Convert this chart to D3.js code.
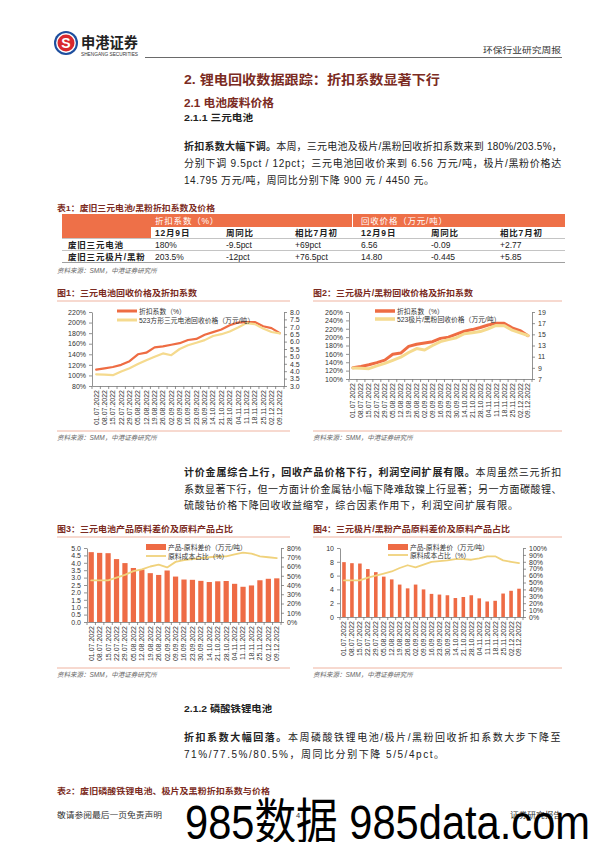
<!DOCTYPE html>
<html><head><meta charset="utf-8">
<script src="https://cdn.jsdelivr.net/npm/d3@7"></script>
<style>
body{margin:0;background:#fff;}
svg{display:block;font-family:"Liberation Sans","Noto Sans CJK SC",sans-serif;}
</style></head><body>
<svg id="page" width="596" height="842"></svg>
<script>
// ---------------- DATA ----------------
const dates = ["01.07.2022","08.07.2022","15.07.2022","22.07.2022","29.07.2022","05.08.2022","12.08.2022","19.08.2022","26.08.2022","02.09.2022","09.09.2022","16.09.2022","23.09.2022","30.09.2022","14.10.2022","21.10.2022","28.10.2022","04.11.2022","11.11.2022","18.11.2022","25.11.2022","02.12.2022","09.12.2022"];
// Fig 1: ternary battery
const c1Discount = [111,113.5,116,120,127,140,143,153,155,158,161,167,169,177,182,187,195,200,201,201,193,189.5,180];
const c1Price = [3.79,3.77,3.73,3.98,4.2,4.48,4.74,4.98,5.2,5.08,5.5,5.75,5.92,6.1,6.38,6.5,6.68,6.95,7.25,7.18,6.88,6.65,6.56];
// Fig 2: ternary electrode / black mass
const c2Discount = [127,130,134,139,145,159,162,178,183,186,189,197,200,207,214,218,223,229,233,233,222,215.5,203.5];
const c2Price = [8.95,8.92,8.85,9.35,9.8,10.35,10.9,11.75,12.45,12.2,13.0,13.7,14.05,14.4,15.1,15.3,15.5,16.0,16.6,16.55,15.75,15.25,14.8];
// Fig 3
const c3Spread = [4.72,4.67,4.65,4.25,3.98,3.65,3.55,3.3,3.18,3.48,3.07,2.87,2.85,2.78,2.7,2.75,2.77,2.58,2.38,2.47,2.82,2.92,2.95];
const c3Share = [45,45,45,48,51,55,57,60,62,59,65,67,68,69,70,71,71,73,75,74,71,70,69];
// Fig 4
const c4Spread = [7.95,7.8,7.75,6.95,6.5,5.85,5.45,4.7,4.15,4.7,4.0,3.35,3.25,3.15,2.75,2.9,3.15,2.7,2.25,2.35,3.4,3.8,4.1];
const c4Share = [53,53,53,57,60,63,66,71,75,72,76,80,81,82,84,84,83,85,88,88,82,80,78];
// Axis ticks
const c1LeftTicks = [80,100,120,140,160,180,200,220];
const c1RightTicks = [3,3.5,4,4.5,5,5.5,6,6.5,7,7.5,8];
const c2LeftTicks = [100,120,140,160,180,200,220,240,260];
const c2RightTicks = [7,9,11,13,15,17,19];
const c3LeftTicks = [0,0.5,1,1.5,2,2.5,3,3.5,4,4.5,5];
const c3RightTicks = [0,10,20,30,40,50,60,70,80];
const c4LeftTicks = [0,2,4,6,8,10];
const c4RightTicks = [0,10,20,30,40,50,60,70,80,90,100];
// Table 1
const tblGroups = ["折扣系数（%）","回收价格（万元/吨）"];
const tblHeads = ["12月9日","周同比","相比7月初","12月9日","周同比","相比7月初"];
const tblRows = [
  ["废旧三元电池","180%","-9.5pct","+69pct","6.56","-0.09","+2.77"],
  ["废旧三元极片/黑粉","203.5%","-12pct","+76.5pct","14.80","-0.445","+5.85"]
];

// ---------------- STYLE ----------------
const ORANGE = "#EE6C43", YELLOW = "#F5DA8E", YELLOW2 = "#F0D27C", BAR = "#EE6B45";
const DARKRED = "#7B2B22", TXT = "#222";
const svg = d3.select("#page");

function T(x,y,s,o={}){
  const t = svg.append("text").attr("x",x).attr("y",y).text(s)
    .attr("font-size",o.size||10).attr("fill",o.fill||TXT);
  if(o.bold) t.attr("font-weight","bold");
  if(o.anchor) t.attr("text-anchor",o.anchor);
  if(o.italic) t.attr("font-style","italic");
  if(o.len) t.attr("textLength",o.len).attr("lengthAdjust","spacingAndGlyphs");
  if(o.ls) t.style("letter-spacing",o.ls+"px");
  return t;
}
function para(x,y,segs,width,size,ls){
  const t = svg.append("text").attr("x",x).attr("y",y).attr("font-size",size).attr("fill",TXT);
  let n=0;
  segs.forEach(s=>{ t.append("tspan").text(s.t).attr("font-weight",s.b?"bold":"normal"); n+=s.t.length; });
  let used = ls||0;
  if(width){
    const len = t.node().getComputedTextLength();
    used = (width-len)/n;
  }
  t.style("letter-spacing",used+"px");
  return used;
}

// ---------------- HEADER ----------------
svg.append("circle").attr("cx",66).attr("cy",43).attr("r",12).attr("fill","#1D4E9E");
svg.append("circle").attr("cx",66).attr("cy",43).attr("r",9.9).attr("fill","#fff");
svg.append("circle").attr("cx",66).attr("cy",43).attr("r",8.5).attr("fill","#D8282E");
T(66,48,"S",{size:14,bold:true,fill:"#fff",anchor:"middle"});
T(81,48,"申港证券",{size:14.5,bold:true,fill:"#222",len:57});
T(81,55.5,"SHENGANG SECURITIES",{size:4.6,fill:"#333",len:57});
svg.append("line").attr("x1",145).attr("x2",562).attr("y1",57.5).attr("y2",57.5).attr("stroke","#444").attr("stroke-width",0.8);
T(561,53,"环保行业研究周报",{size:8.5,fill:"#333",anchor:"end",len:78});

T(184,84,"2. 锂电回收数据跟踪：折扣系数显著下行",{size:13,bold:true,fill:DARKRED,len:256});
T(184,107,"2.1 电池废料价格",{size:11,bold:true,fill:DARKRED,len:90});
T(184,121,"2.1.1 三元电池",{size:9.5,bold:true,fill:TXT,len:69});

let ls1 = para(184,150,[{t:"折扣系数大幅下调。",b:true},{t:"本周，三元电池及极片/黑粉回收折扣系数来到 180%/203.5%，"}],378,10);
para(184,167,[{t:"分别下调 9.5pct / 12pct；三元电池回收价来到 6.56 万元/吨，极片/黑粉价格达"}],378,10);
para(184,184,[{t:"14.795 万元/吨，周同比分别下降 900 元 / 4450 元。"}],null,10,ls1+0.3);

// ---------------- TABLE 1 ----------------
T(57,211,"表1：废旧三元电池/黑粉折扣系数及价格",{size:8,bold:true,fill:DARKRED,len:158});
const tx0=62, tx1=565, ty0=214;
svg.append("rect").attr("x",tx0).attr("y",ty0).attr("width",tx1-tx0).attr("height",13).attr("fill","#EE7048");
svg.append("rect").attr("x",tx0).attr("y",ty0).attr("width",89).attr("height",24).attr("fill","#EE7048");
svg.append("line").attr("x1",352.5).attr("x2",352.5).attr("y1",ty0).attr("y2",ty0+13).attr("stroke","#fff").attr("stroke-width",1);
const colX = [68,155,226,295,361,431,500];
T(colX[1],224,tblGroups[0],{size:8.5,fill:"#fff",ls:0.8});
T(colX[4],224,tblGroups[1],{size:8.5,fill:"#fff",ls:0.8});
tblHeads.forEach((h,i)=>T(colX[i+1],236,h,{size:8.5,bold:true,ls:0.8}));
[238.5,250.5,262.5].forEach((yy,i)=>svg.append("line").attr("x1",tx0).attr("x2",tx1).attr("y1",yy).attr("y2",yy)
  .attr("stroke",i==2?"#777":"#aaa").attr("stroke-width",0.7));
tblRows.forEach((r,ri)=>{
  const yy = 248 + ri*12;
  r.forEach((v,ci)=>T(colX[ci],yy,v,{size:8.5,bold:ci==0,ls:ci==0?0.8:0}));
});
T(57,273,"资料来源：SMM，中港证券研究所",{size:6.5,italic:true,fill:"#666"});

// ---------------- CHARTS ----------------
function styleAxis(a){
  a.attr("font-family",null).attr("font-size",null);
  a.selectAll("text").attr("font-size",7).attr("fill","#333");
  a.selectAll("path,line").attr("stroke","#777").attr("stroke-width",0.8);
}
function chart(o){
  T(o.fx,532- (o.top?236:0),o.title,{size:8.5,bold:true,fill:DARKRED,len:o.tlen});
  const ry1 = o.top?301:537, ry2 = o.top?431:668;
  [ry1,ry2].forEach(yy=>svg.append("line").attr("x1",o.fx).attr("x2",o.fx2).attr("y1",yy).attr("y2",yy)
      .attr("stroke","#EFB3A0").attr("stroke-width",1));
  T(o.fx,ry2+9,"资料来源：SMM，中港证券研究所",{size:6.5,italic:true,fill:"#666"});

  const g = svg.append("g");
  const xs = d3.scaleBand().domain(dates).range([o.x0,o.x1]);
  const yL = d3.scaleLinear().domain(o.lDom).range([o.yb,o.yt]);
  const yR = d3.scaleLinear().domain(o.rDom).range([o.yb,o.yt]);
  const cx = d=>xs(d)+xs.bandwidth()/2;

  if(o.bars){
    g.selectAll("rect.bar").data(o.bars).join("rect").attr("class","bar")
      .attr("x",(d,i)=>cx(dates[i])-xs.bandwidth()*o.bw/2)
      .attr("width",xs.bandwidth()*o.bw)
      .attr("y",d=>yL(d)).attr("height",d=>o.yb-yL(d)).attr("fill",BAR);
  }
  const aL = g.append("g").attr("transform",`translate(${o.x0},0)`)
    .call(d3.axisLeft(yL).tickValues(o.lTicks).tickFormat(o.lFmt).tickSize(3).tickSizeOuter(0));
  const aR = g.append("g").attr("transform",`translate(${o.x1},0)`)
    .call(d3.axisRight(yR).tickValues(o.rTicks).tickFormat(o.rFmt).tickSize(3).tickSizeOuter(0));
  const aX = g.append("g").attr("transform",`translate(0,${o.yb})`)
    .call(d3.axisBottom(xs).tickSize(0).tickSizeOuter(0));
  aX.selectAll("text").attr("transform","rotate(-90)").attr("x",-4).attr("y",0).attr("dy","0.35em").style("text-anchor","end");
  [aL,aR,aX].forEach(styleAxis);
  g.selectAll("line.xt").data(d3.range(dates.length+1)).join("line").attr("class","xt")
    .attr("x1",i=>o.x0+i*xs.step()).attr("x2",i=>o.x0+i*xs.step())
    .attr("y1",o.yb).attr("y2",o.yb+3).attr("stroke","#777").attr("stroke-width",0.8);

  o.lines.forEach(L=>{
    const sc = L.right?yR:yL;
    g.append("path").datum(L.data)
      .attr("d",d3.line().x((d,i)=>cx(dates[i])).y(d=>sc(d)))
      .attr("fill","none").attr("stroke",L.color).attr("stroke-width",L.w)
      .attr("stroke-linejoin","round").attr("stroke-linecap","round");
  });
  o.legend.forEach((L,i)=>{
    const yy = o.ly[i];
    if(L.bar) svg.append("rect").attr("x",o.lx).attr("y",yy-3).attr("width",20).attr("height",6).attr("fill",BAR);
    else svg.append("line").attr("x1",o.lx).attr("x2",o.lx+20).attr("y1",yy).attr("y2",yy)
      .attr("stroke",L.color).attr("stroke-width",L.w);
    T(o.lx+22,yy+2.5,L.label,{size:6.8,fill:"#333"});
  });
}

const pct = d=>d+"%";
chart({top:true,fx:57,fx2:290,title:"图1：三元电池回收价格及折扣系数",tlen:140,
  x0:92,x1:284,yt:312,yb:386,lDom:[80,220],rDom:[3,8],
  lTicks:c1LeftTicks,rTicks:c1RightTicks,lFmt:pct,rFmt:d3.format(".1f"),
  lines:[{data:c1Discount,color:ORANGE,w:2.2},{data:c1Price,color:YELLOW,w:2.2,right:true}],
  lx:117,ly:[311,320],
  legend:[{label:"折扣系数（%）",color:ORANGE,w:3},{label:"523方形三元电池回收价格（万元/吨）",color:YELLOW,w:3}]});

chart({top:true,fx:313,fx2:562,title:"图2：三元极片/黑粉回收价格及折扣系数",tlen:160,
  x0:349,x1:532,yt:312,yb:379,lDom:[100,260],rDom:[7,19],
  lTicks:c2LeftTicks,rTicks:c2RightTicks,lFmt:pct,rFmt:d3.format("d"),
  lines:[{data:c2Discount,color:ORANGE,w:3},{data:c2Price,color:YELLOW,w:3,right:true}],
  lx:375,ly:[311,319],
  legend:[{label:"折扣系数（%）",color:ORANGE,w:3.5},{label:"523极片/黑粉回收价格（万元/吨）",color:YELLOW,w:3.5}]});

chart({top:false,fx:57,fx2:290,title:"图3：三元电池产品原料差价及原料产品占比",tlen:176,
  x0:87,x1:281,yt:548,yb:622,lDom:[0,5],rDom:[0,80],
  lTicks:c3LeftTicks,rTicks:c3RightTicks,lFmt:d3.format(".1f"),rFmt:pct,
  bars:c3Spread,bw:0.62,
  lines:[{data:c3Share,color:YELLOW2,w:1.8,right:true}],
  lx:146,ly:[547,556],
  legend:[{label:"产品-原料差价（万元/吨）",bar:true},{label:"原料成本占比（%）",color:YELLOW2,w:1.8}]});

chart({top:false,fx:313,fx2:562,title:"图4：三元极片/黑粉产品原料差价及原料产品占比",tlen:197,
  x0:340,x1:523,yt:548,yb:617,lDom:[0,10],rDom:[0,100],
  lTicks:c4LeftTicks,rTicks:c4RightTicks,lFmt:d3.format("d"),rFmt:pct,
  bars:c4Spread,bw:0.45,
  lines:[{data:c4Share,color:YELLOW2,w:1.8,right:true}],
  lx:388,ly:[547,555],
  legend:[{label:"产品-原料差价（万元/吨）",bar:true},{label:"原料成本占比（%）",color:YELLOW2,w:1.8}]});

// ---------------- PARAGRAPH 2 ----------------
let ls2 = para(184,476,[{t:"计价金属综合上行，回收产品价格下行，利润空间扩展有限。",b:true},{t:"本周虽然三元折扣"}],378,10);
para(184,493,[{t:"系数显著下行，但一方面计价金属钴小幅下降难敌镍上行显著；另一方面碳酸锂、"}],378,10);
para(184,509,[{t:"硫酸钴价格下降回收收益缩窄，综合因素作用下，利润空间扩展有限。"}],null,10,ls2);

// ---------------- 2.1.2 ----------------
T(184,712,"2.1.2 磷酸铁锂电池",{size:9.5,bold:true,fill:TXT,len:88});
let ls3 = para(184,741,[{t:"折扣系数大幅回落。",b:true},{t:"本周磷酸铁锂电池/极片/黑粉回收折扣系数大步下降至"}],378,10);
para(184,758,[{t:"71%/77.5%/80.5%，周同比分别下降 5/5/4pct。"}],null,10,ls3);
T(57,794,"表2：废旧磷酸铁锂电池、极片及黑粉折扣系数与价格",{size:8,bold:true,fill:DARKRED,len:213});

// ---------------- FOOTER ----------------
T(57,818,"敬请参阅最后一页免责声明",{size:7.5,fill:"#333",len:105});
T(298,818,"4",{size:7.5,fill:"#333",anchor:"middle"});
T(562,818,"证券研究报告",{size:7.5,fill:"#333",anchor:"end",len:52});
T(185,839,"985数据 985data.com",{size:49,fill:"#000",len:405});
</script>
</body></html>
